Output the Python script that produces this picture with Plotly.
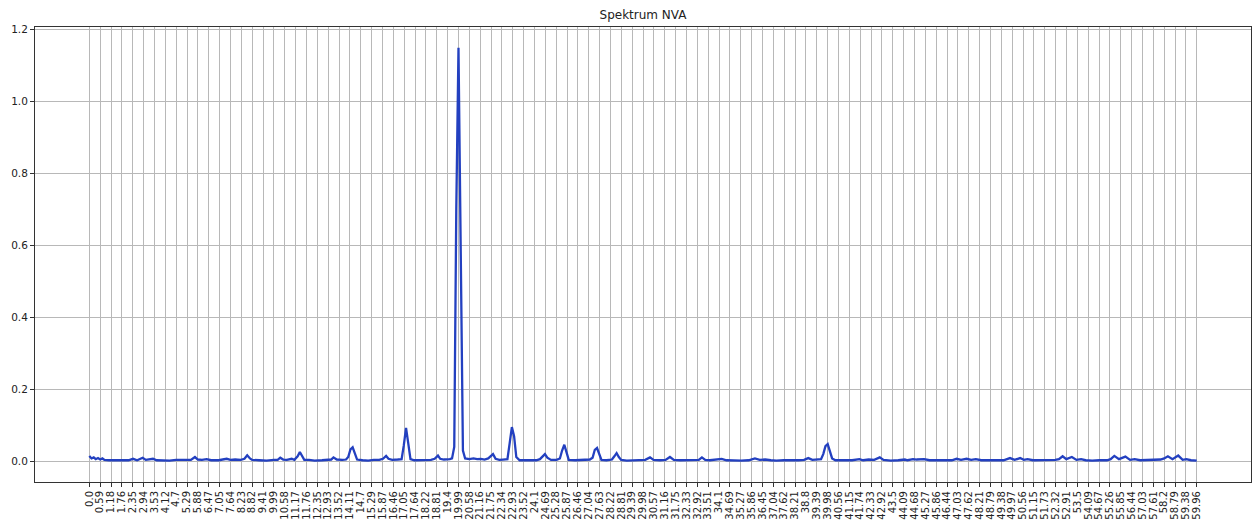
import plotly.graph_objects as go

# X tick labels (frequency bins shown on the axis)
tick_labels = ["0.0", "0.59", "1.18", "1.76", "2.35", "2.94", "3.53", "4.12", "4.7", "5.29",
               "5.88", "6.47", "7.05", "7.64", "8.23", "8.82", "9.41", "9.99", "10.58", "11.17",
               "11.76", "12.35", "12.93", "13.52", "14.11", "14.7", "15.29", "15.87", "16.46", "17.05",
               "17.64", "18.22", "18.81", "19.4", "19.99", "20.58", "21.16", "21.75", "22.34", "22.93",
               "23.52", "24.1", "24.69", "25.28", "25.87", "26.46", "27.04", "27.63", "28.22", "28.81",
               "29.39", "29.98", "30.57", "31.16", "31.75", "32.33", "32.92", "33.51", "34.1", "34.69",
               "35.27", "35.86", "36.45", "37.04", "37.62", "38.21", "38.8", "39.39", "39.98", "40.56",
               "41.15", "41.74", "42.33", "42.92", "43.5", "44.09", "44.68", "45.27", "45.86", "46.44",
               "47.03", "47.62", "48.21", "48.79", "49.38", "49.97", "50.56", "51.15", "51.73", "52.32",
               "52.91", "53.5", "54.09", "54.67", "55.26", "55.85", "56.44", "57.03", "57.61", "58.2",
               "58.79", "59.38", "59.96"]
tick_values = [float(s) for s in tick_labels]

y_ticks = [0.0, 0.2, 0.4, 0.6, 0.8, 1.0, 1.2]

# Spectrum (frequency, amplitude)
freq = [0.0, 0.12, 0.24, 0.35, 0.47, 0.59, 0.71, 0.82, 1.06, 1.41, 1.76, 2.12, 2.37, 2.59, 2.89,
        3.06, 3.29, 3.45, 3.65, 4.0, 4.35, 4.7, 5.06, 5.29, 5.5, 5.72, 5.88, 6.1, 6.35, 6.6,
        7.0, 7.44, 7.64, 7.9, 8.2, 8.4, 8.55, 8.7, 8.82, 9.2, 9.6, 9.99, 10.2, 10.34, 10.5,
        10.7, 10.96, 11.1, 11.28, 11.4, 11.52, 11.64, 11.9, 12.2, 12.6, 12.93, 13.1, 13.22, 13.4,
        13.7, 13.9, 14.02, 14.14, 14.26, 14.38, 14.5, 14.8, 15.1, 15.4, 15.7, 15.9, 16.07, 16.2,
        16.4, 16.7, 16.91, 17.03, 17.15, 17.27, 17.39, 17.6, 17.9, 18.2, 18.5, 18.7, 18.88, 19.0,
        19.2, 19.52, 19.64, 19.76, 19.87, 19.99, 20.11, 20.23, 20.35, 20.58, 20.8, 21.0, 21.2,
        21.4, 21.6, 21.75, 21.86, 22.0, 22.2, 22.4, 22.64, 22.76, 22.88, 23.0, 23.12, 23.3, 23.6,
        23.9, 24.2, 24.4, 24.55, 24.67, 24.8, 25.0, 25.3, 25.48, 25.6, 25.72, 25.84, 25.96, 26.3,
        26.6, 26.9, 27.1, 27.25, 27.37, 27.49, 27.61, 27.73, 28.0, 28.3, 28.43, 28.55, 28.67, 28.8,
        29.1, 29.4, 29.8, 30.1, 30.36, 30.55, 30.9, 31.2, 31.44, 31.65, 32.0, 32.4, 32.8, 33.0,
        33.17, 33.35, 33.6, 33.9, 34.24, 34.5, 34.9, 35.3, 35.7, 36.04, 36.3, 36.6, 36.9, 37.2,
        37.6, 38.0, 38.4, 38.7, 38.93, 39.15, 39.4, 39.62, 39.74, 39.86, 39.98, 40.1, 40.22, 40.4,
        40.7, 41.0, 41.3, 41.7, 41.9, 42.2, 42.5, 42.8, 43.0, 43.4, 43.8, 44.16, 44.3, 44.6,
        44.8, 45.2, 45.5, 45.9, 46.3, 46.7, 46.96, 47.2, 47.5, 47.75, 48.0, 48.3, 48.7, 49.1,
        49.5, 49.85, 50.1, 50.4, 50.6, 50.8, 51.1, 51.5, 51.9, 52.3, 52.5, 52.7, 52.9, 53.2,
        53.45, 53.7, 53.95, 54.3, 54.7, 55.1, 55.3, 55.5, 55.75, 56.1, 56.35, 56.6, 56.9, 57.3,
        57.7, 58.0, 58.2, 58.4, 58.65, 58.96, 59.2, 59.4, 59.65, 59.96]
amplitude = [0.015, 0.008, 0.011, 0.006, 0.009, 0.005, 0.008, 0.004, 0.003, 0.002, 0.003, 0.003, 0.007, 0.003, 0.010,
             0.004, 0.005, 0.007, 0.003, 0.002, 0.002, 0.004, 0.004, 0.006, 0.004, 0.012, 0.005, 0.004, 0.006, 0.003,
             0.003, 0.007, 0.004, 0.005, 0.004, 0.007, 0.017, 0.008, 0.004, 0.003, 0.002, 0.004, 0.004, 0.010, 0.005,
             0.004, 0.007, 0.004, 0.014, 0.026, 0.014, 0.004, 0.004, 0.002, 0.003, 0.004, 0.005, 0.011, 0.005,
             0.004, 0.005, 0.012, 0.033, 0.039, 0.022, 0.005, 0.003, 0.002, 0.004, 0.004, 0.007, 0.015, 0.007,
             0.004, 0.005, 0.006, 0.045, 0.093, 0.050, 0.006, 0.003, 0.004, 0.005, 0.004, 0.007, 0.016, 0.007,
             0.005, 0.006, 0.008, 0.040, 0.700, 1.150, 0.650, 0.030, 0.008, 0.006, 0.008, 0.006, 0.007,
             0.005, 0.008, 0.015, 0.020, 0.007, 0.004, 0.005, 0.006, 0.050, 0.095, 0.070, 0.012, 0.003, 0.003,
             0.004, 0.003, 0.006, 0.014, 0.020, 0.010, 0.004, 0.004, 0.008, 0.030, 0.046, 0.025, 0.004, 0.003,
             0.004, 0.003, 0.005, 0.010, 0.032, 0.037, 0.020, 0.004, 0.003, 0.005, 0.014, 0.023, 0.012, 0.004,
             0.002, 0.003, 0.003, 0.004, 0.011, 0.004, 0.003, 0.004, 0.012, 0.004, 0.003, 0.003, 0.004, 0.004,
             0.011, 0.004, 0.003, 0.004, 0.007, 0.003, 0.002, 0.002, 0.003, 0.008, 0.004, 0.005, 0.003, 0.002,
             0.003, 0.002, 0.003, 0.004, 0.009, 0.004, 0.005, 0.006, 0.020, 0.042, 0.048, 0.030, 0.008, 0.003,
             0.002, 0.003, 0.003, 0.006, 0.003, 0.005, 0.004, 0.011, 0.004, 0.002, 0.003, 0.005, 0.003, 0.006,
             0.005, 0.006, 0.003, 0.002, 0.003, 0.003, 0.007, 0.004, 0.007, 0.004, 0.006, 0.003, 0.002, 0.003,
             0.003, 0.009, 0.004, 0.009, 0.004, 0.006, 0.003, 0.003, 0.003, 0.004, 0.006, 0.014, 0.006, 0.012,
             0.004, 0.006, 0.003, 0.002, 0.003, 0.003, 0.006, 0.015, 0.006, 0.013, 0.004, 0.006, 0.003, 0.003,
             0.004, 0.005, 0.008, 0.014, 0.006, 0.016, 0.004, 0.006, 0.003, 0.002]

fig = go.Figure()
fig.add_trace(go.Scatter(x=freq, y=amplitude, mode="lines",
                         line=dict(color="#2340c0", width=2.3), showlegend=False))

axis_font = dict(family="DejaVu Sans", size=10, color="#222222")
fig.update_layout(
    width=1252, height=522,
    margin=dict(l=35, r=1, t=27, b=40),
    paper_bgcolor="white", plot_bgcolor="white",
    title=dict(text="Spektrum NVA", x=643 / 1252, xanchor="center",
               y=1 - 15 / 522, yanchor="middle",
               font=dict(family="DejaVu Sans", size=12, color="#222222")),
    font=dict(family="DejaVu Sans"),
)
fig.update_xaxes(range=[-2.94, 62.9], tickmode="array", tickvals=tick_values, ticktext=tick_labels,
                 tickangle=-90, tickfont=axis_font, ticks="outside", ticklen=4, tickcolor="#333333",
                 showgrid=True, gridcolor="#b8b8b8", gridwidth=1, zeroline=False,
                 showline=True, linecolor="#333333", linewidth=1, mirror=True, automargin=False)
fig.update_yaxes(range=[-0.0575, 1.2075], tickmode="array", tickvals=y_ticks,
                 ticktext=[f"{v:.1f}" for v in y_ticks],
                 tickfont=dict(family="DejaVu Sans", size=10.5, color="#222222"),
                 ticks="outside", ticklen=4, tickcolor="#333333",
                 showgrid=True, gridcolor="#b8b8b8", gridwidth=1, zeroline=False,
                 showline=True, linecolor="#333333", linewidth=1, mirror=True, automargin=False)

fig.write_html("out.html", config={"displayModeBar": False},
               post_script="document.body.style.margin='0';")
